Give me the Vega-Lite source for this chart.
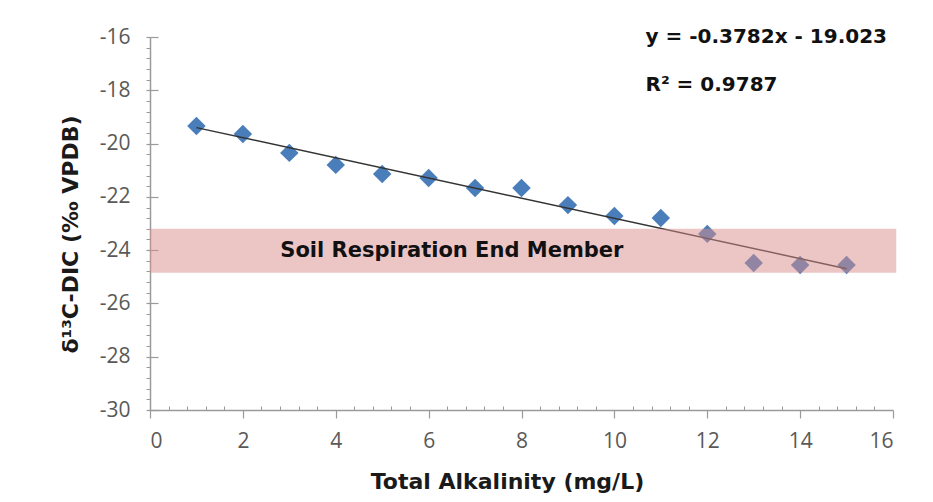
{
  "$schema": "https://vega.github.io/schema/vega-lite/v6.json",
  "width": 743,
  "height": 373,
  "autosize": {"type": "none"},
  "padding": {"left": 150, "top": 37, "right": 40, "bottom": 92},
  "background": "white",
  "config": {"view": {"stroke": null}, "font": "DejaVu Sans"},
  "datasets": {
    "points": [
      {"alk": 1, "d13c": -19.34},
      {"alk": 2, "d13c": -19.64},
      {"alk": 3, "d13c": -20.35},
      {"alk": 4, "d13c": -20.8},
      {"alk": 5, "d13c": -21.14},
      {"alk": 6, "d13c": -21.29},
      {"alk": 7, "d13c": -21.67},
      {"alk": 8, "d13c": -21.67},
      {"alk": 9, "d13c": -22.31},
      {"alk": 10, "d13c": -22.72},
      {"alk": 11, "d13c": -22.79},
      {"alk": 12, "d13c": -23.39},
      {"alk": 13, "d13c": -24.48},
      {"alk": 14, "d13c": -24.56},
      {"alk": 15, "d13c": -24.56}
    ],
    "trend": [
      {"alk": 1, "d13c": -19.401},
      {"alk": 15, "d13c": -24.696}
    ],
    "band": [
      {"x1": 0, "x2": 16.07, "lo": -24.85, "hi": -23.2, "label": "Soil Respiration End Member", "xm": 6.5, "ym": -24.05}
    ]
  },
  "resolve": {"axis": {"x": "independent", "y": "independent"}},
  "layer": [
    {
      "data": {"name": "points"},
      "mark": {"type": "point", "shape": "diamond", "filled": true, "size": 340, "color": "#4a7ebb", "opacity": 1},
      "encoding": {
        "x": {
          "field": "alk", "type": "quantitative",
          "scale": {"domain": [0, 16], "nice": false, "zero": false},
          "axis": {
            "orient": "bottom", "values": [0, 2, 4, 6, 8, 10, 12, 14, 16],
            "title": "Total Alkalinity (mg/L)", "grid": false,
            "domainColor": "#9a9a9a", "domainWidth": 1.5, "tickColor": "#9a9a9a", "tickWidth": 1.2, "tickSize": 8,
            "labelFont": "Open Sans", "labelFontSize": 21, "labelColor": "#595959", "labelPadding": 12,
            "labelExpr": "'' + datum.value",
            "titleFont": "DejaVu Sans", "titleFontSize": 22, "titleFontWeight": "bold", "titleColor": "#1a1a1a", "titlePadding": 20,
            "titleX": 357
          }
        },
        "y": {
          "field": "d13c", "type": "quantitative",
          "scale": {"domain": [-30, -16], "nice": false, "zero": false},
          "axis": {
            "orient": "left", "values": [-30, -28, -26, -24, -22, -20, -18, -16],
            "title": "δ¹³C-DIC (‰ VPDB)", "grid": false,
            "domainColor": "#9a9a9a", "domainWidth": 1.5, "tickColor": "#9a9a9a", "tickWidth": 1.2, "tickSize": 4,
            "labelFont": "Open Sans", "labelFontSize": 21, "labelColor": "#595959", "labelPadding": 16,
            "labelExpr": "'' + datum.value",
            "titleFont": "DejaVu Sans", "titleFontSize": 22, "titleFontWeight": "bold", "titleColor": "#1a1a1a",
            "titleX": -68, "titleY": 197
          }
        }
      }
    },
    {
      "data": {"name": "trend"},
      "mark": {"type": "line", "color": "#333333", "strokeWidth": 1.5},
      "encoding": {
        "x": {
          "field": "alk", "type": "quantitative",
          "axis": {
            "orient": "bottom", "title": null, "labels": false, "domain": false, "grid": false,
            "values": [0.4, 0.8, 1.2, 1.6, 2.4, 2.8, 3.2, 3.6, 4.4, 4.8, 5.2, 5.6, 6.4, 6.8, 7.2, 7.6, 8.4, 8.8, 9.2, 9.6, 10.4, 10.8, 11.2, 11.6, 12.4, 12.8, 13.2, 13.6, 14.4, 14.8, 15.2, 15.6],
            "tickSize": -4, "tickColor": "#9a9a9a", "tickWidth": 1
          }
        },
        "y": {
          "field": "d13c", "type": "quantitative",
          "axis": {
            "orient": "left", "title": null, "labels": false, "domain": false, "grid": false,
            "values": [-29.6, -29.2, -28.8, -28.4, -27.6, -27.2, -26.8, -26.4, -25.6, -25.2, -24.8, -24.4, -23.6, -23.2, -22.8, -22.4, -21.6, -21.2, -20.8, -20.4, -19.6, -19.2, -18.8, -18.4, -17.6, -17.2, -16.8, -16.4],
            "tickSize": 4, "tickColor": "#9a9a9a", "tickWidth": 1
          }
        }
      }
    },
    {
      "data": {"name": "band"},
      "mark": {"type": "rect", "color": "#d98c8c", "opacity": 0.5},
      "encoding": {
        "x": {"field": "x1", "type": "quantitative", "axis": null},
        "x2": {"field": "x2"},
        "y": {
          "field": "hi", "type": "quantitative",
          "axis": {
            "orient": "left", "title": null, "labels": false, "domain": false, "grid": false,
            "values": [-30, -28, -26, -24, -22, -20, -18, -16],
            "tickSize": -8, "tickColor": "#9a9a9a", "tickWidth": 1.2
          }
        },
        "y2": {"field": "lo"}
      }
    },
    {
      "data": {"name": "band"},
      "mark": {"type": "text", "font": "DejaVu Sans", "fontSize": 21, "fontWeight": "bold", "color": "#111111", "align": "center", "baseline": "middle"},
      "encoding": {
        "x": {"field": "xm", "type": "quantitative", "axis": null},
        "y": {"field": "ym", "type": "quantitative", "axis": null},
        "text": {"field": "label"}
      }
    },
    {
      "data": {"values": [{"t": "y = -0.3782x - 19.023"}]},
      "mark": {"type": "text", "font": "DejaVu Sans", "fontSize": 20, "fontWeight": "bold", "color": "#111111", "align": "left", "baseline": "middle"},
      "encoding": {
        "x": {"datum": 10.67, "type": "quantitative", "axis": null},
        "y": {"datum": -16.0, "type": "quantitative", "axis": null},
        "text": {"field": "t"}
      }
    },
    {
      "data": {"values": [{"t": "R² = 0.9787"}]},
      "mark": {"type": "text", "font": "DejaVu Sans", "fontSize": 20, "fontWeight": "bold", "color": "#111111", "align": "left", "baseline": "middle"},
      "encoding": {
        "x": {"datum": 10.67, "type": "quantitative", "axis": null},
        "y": {"datum": -17.8, "type": "quantitative", "axis": null},
        "text": {"field": "t"}
      }
    }
  ]
}
